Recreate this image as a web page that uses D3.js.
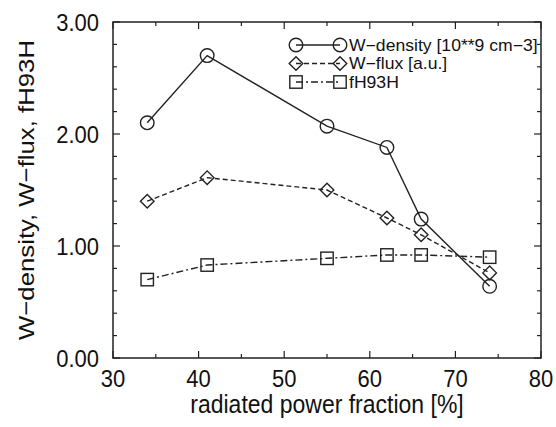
<!DOCTYPE html>
<html>
<head>
<meta charset="utf-8">
<script src="https://cdn.jsdelivr.net/npm/d3@7"></script>
<style>
body { margin: 0; background: #fff; }
text { font-family: "Liberation Sans", Arial, sans-serif; fill: #111; }
</style>
</head>
<body>
<svg width="556" height="427"></svg>
<script>
const width = 556
const height = 427
const margin = { top: 22, bottom: 69, left: 113, right: 15 }
const stretch = 1.12 // the reference text looks taller than it is wide

// data
const powerFraction = [34, 41, 55, 62, 66, 74]
const wDensity = [2.10, 2.70, 2.07, 1.88, 1.24, 0.64]
const wFlux = [1.40, 1.61, 1.50, 1.25, 1.10, 0.76]
const fH93H = [0.70, 0.83, 0.89, 0.92, 0.92, 0.90]
const xTicks = [30, 40, 50, 60, 70, 80]
const yTicks = [0, 1, 2, 3]
const seriesNames = ["W\u2212density [10**9 cm\u22123]", "W\u2212flux [a.u.]", "fH93H"]

const x = d3.scaleLinear().range([margin.left, width - margin.right]).domain([30, 80])
const y = d3.scaleLinear().range([height - margin.bottom, margin.top]).domain([0, 3])

const series = [
  { name: seriesNames[0], values: wDensity, marker: "circle", dash: null },
  { name: seriesNames[1], values: wFlux, marker: "diamond", dash: "5,3" },
  { name: seriesNames[2], values: fH93H, marker: "square", dash: "7,3,2,3" }
]

const svg = d3.select("svg")
const ink = "#222"

function addText(px, py, str, size, anchor, rot) {
  return svg.append("text")
    .attr("transform", "translate(" + px + "," + py + ") scale(1," + stretch + ")" + (rot ? " rotate(-90)" : ""))
    .attr("text-anchor", anchor)
    .attr("font-size", size)
    .text(str)
}

// frame with inward ticks on all sides
const plot = svg.append("g")
const x0 = x.range()[0], x1 = x.range()[1], y0 = y.range()[0], y1 = y.range()[1]

d3.range(30, 80.1, 5).forEach(function (v) {
  const len = v % 10 === 0 ? 7 : 4
  plot.append("line").attr("x1", x(v)).attr("x2", x(v)).attr("y1", y0).attr("y2", y0 - len)
    .attr("stroke", ink).attr("stroke-width", 1.2)
  plot.append("line").attr("x1", x(v)).attr("x2", x(v)).attr("y1", y1).attr("y2", y1 + len)
    .attr("stroke", ink).attr("stroke-width", 1.2)
})
d3.range(0, 3.01, 0.2).forEach(function (v) {
  const len = Math.abs(v - Math.round(v)) < 1e-6 ? 7 : 4
  plot.append("line").attr("x1", x0).attr("x2", x0 + len).attr("y1", y(v)).attr("y2", y(v))
    .attr("stroke", ink).attr("stroke-width", 1.2)
  plot.append("line").attr("x1", x1).attr("x2", x1 - len).attr("y1", y(v)).attr("y2", y(v))
    .attr("stroke", ink).attr("stroke-width", 1.2)
})
plot.append("rect").attr("x", x0).attr("y", y1).attr("width", x1 - x0).attr("height", y0 - y1)
  .attr("fill", "none").attr("stroke", ink).attr("stroke-width", 1.5)

// tick labels
xTicks.forEach(function (d) { addText(x(d), 387, d, 22, "middle") })
yTicks.forEach(function (d) { addText(99, y(d) + 0.358 * 22 * stretch, d.toFixed(2), 22, "end") })

// axis titles
addText((x0 + x1) / 2, 413, "radiated power fraction [%]", 23, "middle")
addText(34, (y0 + y1) / 2, "W\u2212density, W\u2212flux, fH93H", 23, "middle", true)

function drawMarker(g, type, cx, cy) {
  if (type === "circle") {
    g.append("circle").attr("cx", cx).attr("cy", cy).attr("r", 6.8)
  } else if (type === "diamond") {
    g.append("path").attr("d", "M" + cx + "," + (cy - 6.8) + "L" + (cx + 6.8) + "," + cy +
      "L" + cx + "," + (cy + 6.8) + "L" + (cx - 6.8) + "," + cy + "Z")
  } else {
    g.append("rect").attr("x", cx - 6.2).attr("y", cy - 6.2).attr("width", 12.4).attr("height", 12.4)
  }
}

const line = d3.line()
  .x(function (d) { return x(d[0]) })
  .y(function (d) { return y(d[1]) })

series.slice().reverse().forEach(function (s) {
  const pts = powerFraction.map(function (p, i) { return [p, s.values[i]] })
  svg.append("path")
    .datum(pts)
    .attr("d", line)
    .attr("fill", "none")
    .attr("stroke", ink)
    .attr("stroke-width", 1.4)
    .attr("stroke-dasharray", s.dash)
  const mg = svg.append("g").attr("fill", "none").attr("stroke", ink).attr("stroke-width", 1.4)
  pts.forEach(function (d) { drawMarker(mg, s.marker, x(d[0]), y(d[1])) })
})

// legend: glyphs widened to the reference's text width
const legendSize = 16.2
const legendWiden = 17.6 / legendSize
series.forEach(function (s, i) {
  const ly = 45 + i * 18.5
  const lx0 = 296, lx1 = 340
  svg.append("line").attr("x1", lx0).attr("x2", lx1).attr("y1", ly).attr("y2", ly)
    .attr("stroke", ink).attr("stroke-width", 1.4).attr("stroke-dasharray", s.dash)
  const mg = svg.append("g").attr("fill", "none").attr("stroke", ink).attr("stroke-width", 1.4)
  drawMarker(mg, s.marker, lx0, ly)
  drawMarker(mg, s.marker, lx1, ly)
  const t = svg.append("text")
    .attr("x", 349)
    .attr("y", ly + 0.36 * legendSize)
    .attr("font-size", legendSize)
    .text(s.name)
  const natural = t.node().getComputedTextLength()
  t.attr("textLength", natural * legendWiden).attr("lengthAdjust", "spacingAndGlyphs")
})
</script>
</body>
</html>
